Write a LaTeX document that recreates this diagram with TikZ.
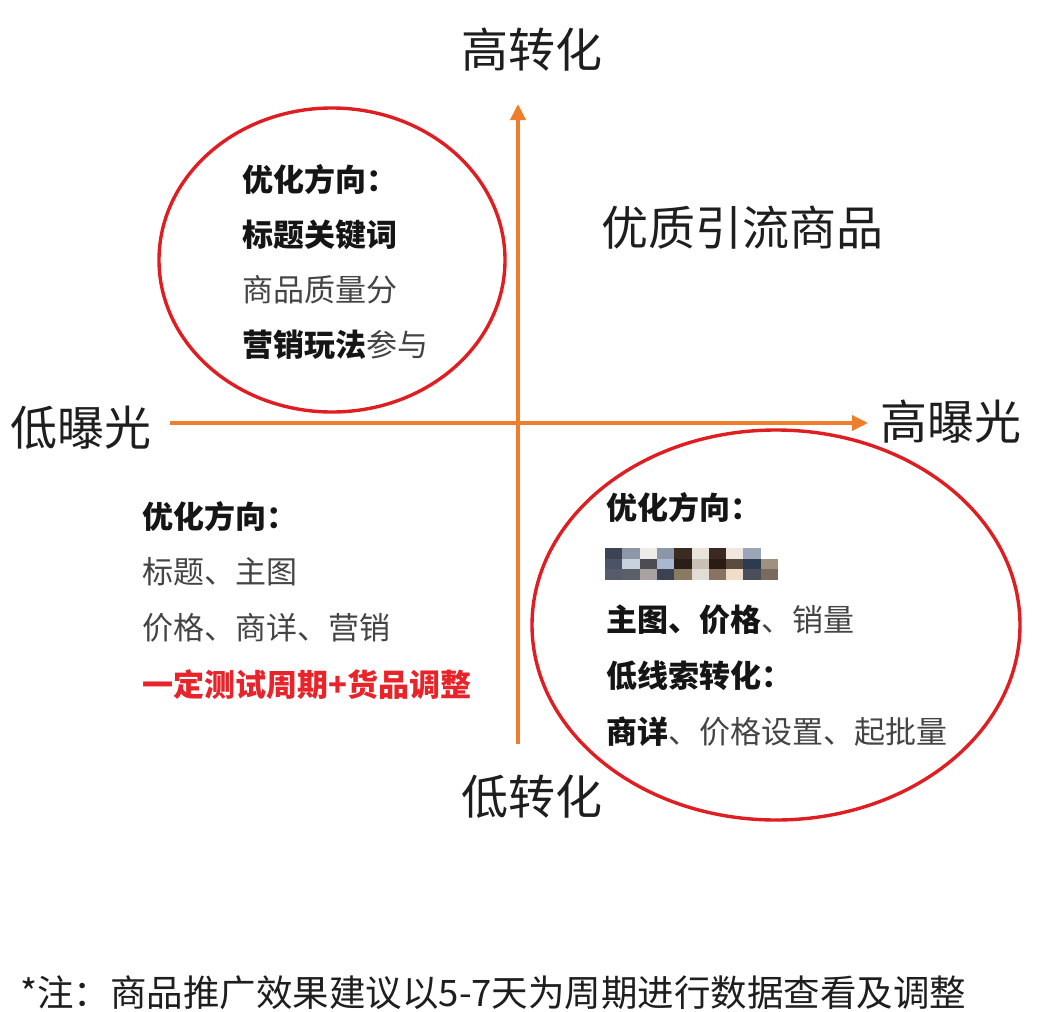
\documentclass[tikz,border=0pt]{standalone}
\usepackage{fontspec}
\setmainfont{Noto Sans CJK SC}
\usetikzlibrary{arrows.meta}
\definecolor{axisorange}{HTML}{F07D2C}
\definecolor{ringred}{HTML}{E01E22}
\definecolor{labeltext}{HTML}{1E1E1E}
\definecolor{bodytext}{HTML}{444444}
\definecolor{boldtext}{HTML}{151515}
\definecolor{alertred}{HTML}{E8232A}
\tikzset{
  axislabel/.style={inner sep=0pt, anchor=west, text=labeltext, font=\fontsize{47}{56}\selectfont},
  quadtext/.style={inner sep=0pt, anchor=west, text=bodytext, font=\fontsize{31}{37}\selectfont},
  axisline/.style={draw=axisorange, line width=3.6pt, -{Triangle[length=16pt,width=15pt]}},
  ring/.style={draw=ringred, line width=3.4pt},
  pix/.style={draw=none}
}
\newcommand{\bt}[1]{{\bfseries\color{boldtext}#1}}
\begin{document}
\begin{tikzpicture}[x=1pt,y=-1pt]
\useasboundingbox[fill=white] (0,0) rectangle (1042,1012);

% axes
\coordinate (hl) at (170,423);
\coordinate (hr) at (868,423);
\coordinate (vb) at (518,744);
\coordinate (vt) at (518,104);
\draw[axisline] (hl) -- (hr);
\draw[axisline] (vb) -- (vt);

% ellipses
\draw[ring] (332,260) ellipse [x radius=173, y radius=152];
\draw[ring] (776,625) ellipse [x radius=244, y radius=195];

% axis labels
\node[axislabel] (hi-conv) at (461,50) {高转化};
\node[axislabel] (lo-conv) at (461,797) {低转化};
\node[axislabel] (lo-exp) at (10,428) {低曝光};
\node[axislabel] (hi-exp) at (880,422) {高曝光};
\node[axislabel] (quality) at (601,228) {优质引流商品};

% top-left block
\node[quadtext] (tl1) at (242,180) {\bt{优化方向：}};
\node[quadtext] (tl2) at (242,235) {\bt{标题关键词}};
\node[quadtext] (tl3) at (242,290) {商品质量分};
\node[quadtext] (tl4) at (242,345) {\bt{营销玩法}参与};

% bottom-left block
\node[quadtext] (bl1) at (142,517) {\bt{优化方向：}};
\node[quadtext] (bl2) at (142,572) {标题、主图};
\node[quadtext] (bl3) at (142,628) {价格、商详、营销};
\node[quadtext, text=alertred, font=\fontsize{31}{37}\selectfont\bfseries] (bl4) at (142,685) {一定测试周期+货品调整};

% bottom-right block
\node[quadtext] (br1) at (606,508) {\bt{优化方向：}};
\node[quadtext] (br3) at (606,620) {\bt{主图、价格}、销量};
\node[quadtext] (br4) at (606,676) {\bt{低线索转化：}};
\node[quadtext] (br5) at (606,732) {\bt{商详}、价格设置、起批量};

% pixelated (obscured) line
\foreach \ca/\cb/\cc [count=\i from 0] in {
  3d4352/4b5366/565c6c,
  8e97a8/c9d1df/5b5f6a,
  efebe6/4d4c52/aaa2a0,
  8b96ab/a9b8d0/3c4252,
  3b2b22/2a1e18/8a7a62,
  e8e4dc/c8c0b4/e2ddd4,
  3a2a22/2b1b13/8a7262,
  f0e8e0/5a4a40/f0dcc8,
  9aa6b8/2c3b50/4a4e5a,
  ffffff/a09080/7a6a60}{
  \definecolor{pxa}{HTML}{\ca}
  \definecolor{pxb}{HTML}{\cb}
  \definecolor{pxc}{HTML}{\cc}
  \fill[pxa] ({605+17.3*\i},548) rectangle ({605+17.3*(\i+1)},558.5);
  \fill[pxb] ({605+17.3*\i},558.5) rectangle ({605+17.3*(\i+1)},569);
  \fill[pxc] ({605+17.3*\i},569) rectangle ({605+17.3*(\i+1)},579.5);
}

% footnote
\node[inner sep=0pt, anchor=west, text=labeltext, font=\fontsize{36.5}{44}\selectfont] (note) at (20,993) {*注：商品推广效果建议以5-7天为周期进行数据查看及调整};
\end{tikzpicture}
\end{document}
